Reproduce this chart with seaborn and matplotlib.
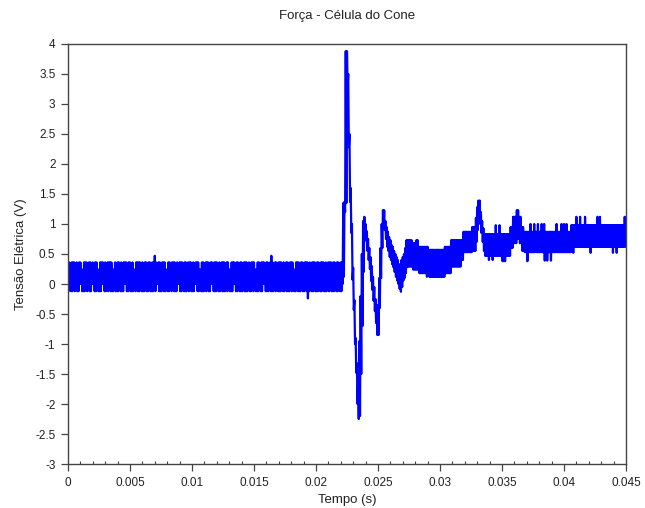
import numpy as np
import pandas as pd
import matplotlib
matplotlib.use("Agg")
import matplotlib.pyplot as plt
from matplotlib.ticker import MultipleLocator
import seaborn as sns

# Sampling step of the acquisition (s); each sample stores the upper and lower
# level reached by the quantised signal within that step.
dt = 1e-4

# Resting signal before the impact (0 - 0.0222 s), upper levels (V)
base_hi = [
    0.36, 0.36, 0.24, 0.36, 0.36, 0.36, 0.24, 0.36, 0.24, 0.36, 0.36, 0.24, 0.24, 0.36, 0.36, 0.36, 0.24, 0.36, 0.36, 0.24,
    0.36, 0.24, 0.36, 0.36, 0.24, 0.24, 0.36, 0.36, 0.36, 0.24, 0.36, 0.24, 0.36, 0.36, 0.36, 0.36, 0.24, 0.24, 0.36, 0.24,
    0.36, 0.36, 0.24, 0.36, 0.24, 0.36, 0.36, 0.36, 0.24, 0.36, 0.36, 0.24, 0.36, 0.24, 0.24, 0.36, 0.36, 0.36, 0.36, 0.24,
    0.36, 0.24, 0.36, 0.36, 0.24, 0.36, 0.36, 0.24, 0.36, 0.36, 0.47, 0.36, 0.24, 0.36, 0.36, 0.24, 0.36, 0.36, 0.36, 0.24,
    0.24, 0.36, 0.36, 0.24, 0.36, 0.36, 0.36, 0.24, 0.36, 0.24, 0.36, 0.36, 0.36, 0.24, 0.36, 0.36, 0.24, 0.36, 0.36, 0.36,
    0.24, 0.36, 0.24, 0.36, 0.36, 0.36, 0.24, 0.24, 0.36, 0.36, 0.24, 0.36, 0.36, 0.36, 0.24, 0.36, 0.36, 0.24, 0.36, 0.36,
    0.36, 0.24, 0.36, 0.24, 0.36, 0.36, 0.36, 0.24, 0.36, 0.36, 0.24, 0.24, 0.36, 0.36, 0.36, 0.24, 0.36, 0.36, 0.24, 0.36,
    0.36, 0.24, 0.36, 0.36, 0.36, 0.24, 0.36, 0.24, 0.36, 0.36, 0.36, 0.24, 0.24, 0.36, 0.36, 0.24, 0.36, 0.36, 0.36, 0.24,
    0.36, 0.36, 0.24, 0.36, 0.47, 0.36, 0.24, 0.36, 0.36, 0.24, 0.36, 0.36, 0.36, 0.24, 0.36, 0.24, 0.36, 0.36, 0.24, 0.36,
    0.36, 0.36, 0.24, 0.24, 0.36, 0.36, 0.36, 0.24, 0.36, 0.36, 0.24, 0.36, 0.36, 0.36, 0.24, 0.36, 0.24, 0.36, 0.36, 0.36,
    0.24, 0.36, 0.36, 0.24, 0.36, 0.36, 0.36, 0.24, 0.36, 0.24, 0.36, 0.36, 0.36, 0.24, 0.36, 0.36, 0.24, 0.36, 0.36, 0.24,
    0.36, 0.36,
]

# Resting signal, lower levels (V)
base_lo = [
    -0.12, 0.0, -0.12, -0.12, 0.0, -0.12, 0.0, -0.12, -0.12, 0.0, 0.0, -0.12, -0.12, -0.12, 0.0, -0.12, 0.0, -0.12, -0.12, 0.0,
    0.0, -0.12, -0.12, 0.0, -0.12, -0.12, -0.12, 0.0, 0.0, -0.12, -0.12, 0.0, -0.12, 0.0, -0.12, -0.12, -0.12, 0.0, -0.12, -0.12,
    -0.12, 0.0, -0.12, -0.12, -0.12, 0.0, 0.0, -0.12, -0.12, 0.0, -0.12, -0.12, -0.12, 0.0, -0.12, 0.0, -0.12, -0.12, 0.0, -0.12,
    -0.12, -0.12, 0.0, -0.12, -0.12, 0.0, -0.12, -0.12, -0.12, 0.0, -0.12, 0.0, 0.0, -0.12, -0.12, -0.12, 0.0, -0.12, -0.12, 0.0,
    -0.12, -0.12, 0.0, -0.12, 0.0, -0.12, -0.12, -0.12, 0.0, 0.0, -0.12, -0.12, 0.0, -0.12, -0.12, -0.12, 0.0, -0.12, 0.0, -0.12,
    -0.12, -0.12, 0.0, 0.0, -0.12, -0.12, 0.0, -0.12, -0.12, -0.12, 0.0, -0.12, 0.0, -0.12, -0.12, 0.0, 0.0, -0.12, -0.12, -0.12,
    0.0, -0.12, -0.12, 0.0, -0.12, -0.12, -0.12, 0.0, -0.12, 0.0, -0.12, -0.12, -0.12, 0.0, 0.0, -0.12, -0.12, 0.0, -0.12, -0.12,
    -0.12, 0.0, -0.12, -0.12, -0.12, 0.0, -0.12, -0.12, 0.0, -0.12, 0.0, -0.12, -0.12, -0.12, 0.0, -0.12, -0.12, 0.0, 0.0, -0.12,
    -0.12, -0.12, 0.0, -0.12, -0.12, -0.12, 0.0, -0.12, 0.0, -0.12, -0.12, -0.12, 0.0, -0.12, -0.12, 0.0, -0.12, -0.12, -0.12, 0.0,
    -0.12, 0.0, -0.12, -0.12, 0.0, -0.12, -0.12, -0.12, 0.0, -0.12, -0.12, 0.0, -0.12, -0.24, -0.12, 0.0, -0.12, -0.12, 0.0, -0.12,
    -0.12, -0.12, 0.0, -0.12, -0.12, 0.0, -0.12, -0.12, -0.12, 0.0, -0.12, 0.0, -0.12, -0.12, -0.12, 0.0, -0.12, -0.12, 0.0, -0.12,
    -0.12, 0.0,
]

# Impact response and settling (0.0222 - 0.045 s), upper levels (V)
event_hi = [
    1.35, 1.37, 3.88, 3.88, 3.5, 2.5, 1.6, 1.0,
    0.27, -0.27, -0.9, -1.32, -1.63, -0.95, -0.2, 0.5, 1.05, 1.12,
    1.0, 0.88, 0.75, 0.6, 0.45, 0.3, 0.12, -0.05, -0.25, -0.45,
    -0.35, 0.1, 0.6, 1.0, 1.23, 1.23, 1.05, 0.95, 0.87, 0.78,
    0.73, 0.65, 0.62, 0.55, 0.5, 0.45, 0.4, 0.33, 0.3, 0.4,
    0.45, 0.5, 0.6, 0.73, 0.73, 0.73, 0.73, 0.73, 0.68, 0.68,
    0.68, 0.73, 0.73, 0.62, 0.62, 0.62, 0.62, 0.62, 0.62, 0.62,
    0.62, 0.57, 0.57, 0.57, 0.57, 0.57, 0.57, 0.57, 0.57, 0.57,
    0.57, 0.57, 0.57, 0.57, 0.62, 0.62, 0.62, 0.62, 0.62, 0.73,
    0.73, 0.73, 0.73, 0.73, 0.73, 0.73, 0.73, 0.73, 0.73, 0.87,
    0.87, 0.87, 0.87, 0.87, 0.87, 0.87, 0.95, 0.95, 0.95, 1.1,
    1.28, 1.39, 1.39, 1.2, 1.05, 0.93, 0.83, 0.83, 0.83, 0.83,
    0.83, 0.83, 0.83, 0.83, 0.83, 0.98, 0.83, 0.83, 0.98, 0.83,
    0.83, 0.83, 0.83, 0.83, 0.83, 0.83, 0.83, 0.95, 0.95, 1.12,
    1.12, 1.12, 1.23, 1.23, 1.12, 1.12, 0.95, 0.95, 0.87, 0.87,
    0.87, 0.87, 0.87, 1.0, 0.87, 0.87, 1.0, 0.87, 0.87, 1.0,
    0.87, 0.87, 1.0, 0.87, 1.0, 0.87, 0.87, 0.87, 0.87, 0.87,
    0.87, 0.87, 0.87, 0.87, 1.0, 0.87, 0.87, 0.87, 1.0, 0.87,
    1.0, 0.87, 1.0, 0.87, 0.87, 0.87, 0.98, 0.98, 0.98, 0.98,
    1.12, 0.98, 0.98, 1.12, 0.98, 0.98, 0.98, 1.12, 0.98, 0.98,
    0.98, 0.98, 0.98, 0.98, 0.98, 0.98, 0.98, 1.12, 0.98, 1.12,
    0.98, 0.98, 0.98, 0.98, 0.98, 0.98, 0.98, 0.98, 0.98, 0.98,
    0.98, 0.98, 0.98, 0.98, 0.98, 0.98, 0.98, 0.98, 0.98, 1.12,
]

# Impact response and settling, lower levels (V)
event_lo = [
    0.12, 1.2, 1.35, 3.27, 2.28, 1.37, 0.85, 0.07,
    -0.43, -1.0, -1.48, -2.0, -2.25, -2.2, -1.5, -0.7, 0.2, 0.85,
    0.72, 0.55, 0.4, 0.25, 0.05, -0.1, -0.28, -0.45, -0.65, -0.85,
    -0.85, -0.4, 0.1, 0.6, 0.95, 0.9, 0.75, 0.62, 0.55, 0.45,
    0.4, 0.33, 0.28, 0.2, 0.12, 0.06, 0.0, -0.08, -0.13, -0.05,
    0.06, 0.1, 0.18, 0.28, 0.29, 0.29, 0.29, 0.29, 0.24, 0.24,
    0.24, 0.24, 0.24, 0.18, 0.18, 0.18, 0.18, 0.18, 0.18, 0.12,
    0.18, 0.12, 0.12, 0.12, 0.12, 0.12, 0.12, 0.12, 0.12, 0.12,
    0.12, 0.12, 0.12, 0.12, 0.18, 0.18, 0.18, 0.18, 0.18, 0.29,
    0.29, 0.29, 0.29, 0.29, 0.29, 0.29, 0.29, 0.4, 0.4, 0.53,
    0.53, 0.53, 0.53, 0.53, 0.53, 0.53, 0.55, 0.55, 0.55, 0.7,
    0.9, 1.05, 1.0, 0.85, 0.7, 0.55, 0.47, 0.47, 0.47, 0.4,
    0.47, 0.47, 0.4, 0.47, 0.47, 0.47, 0.47, 0.47, 0.47, 0.47,
    0.38, 0.38, 0.38, 0.47, 0.47, 0.47, 0.47, 0.6, 0.6, 0.68,
    0.68, 0.68, 0.75, 0.75, 0.68, 0.68, 0.55, 0.55, 0.53, 0.53,
    0.38, 0.53, 0.53, 0.53, 0.53, 0.53, 0.53, 0.53, 0.53, 0.53,
    0.53, 0.53, 0.53, 0.53, 0.39, 0.53, 0.39, 0.53, 0.53, 0.39,
    0.53, 0.53, 0.53, 0.53, 0.53, 0.53, 0.53, 0.53, 0.53, 0.53,
    0.53, 0.53, 0.53, 0.53, 0.53, 0.53, 0.62, 0.52, 0.62, 0.62,
    0.62, 0.62, 0.62, 0.62, 0.62, 0.62, 0.62, 0.62, 0.62, 0.62,
    0.62, 0.52, 0.62, 0.62, 0.62, 0.62, 0.62, 0.62, 0.62, 0.62,
    0.62, 0.62, 0.62, 0.62, 0.62, 0.62, 0.62, 0.62, 0.62, 0.52,
    0.62, 0.62, 0.52, 0.62, 0.62, 0.62, 0.62, 0.62, 0.62, 0.62,
]

x_ticks = [0, 0.005, 0.01, 0.015, 0.02, 0.025, 0.03, 0.035, 0.04, 0.045]
x_labels = ["0", "0.005", "0.01", "0.015", "0.02", "0.025", "0.03", "0.035", "0.04", "0.045"]
y_ticks = [-3, -2.5, -2, -1.5, -1, -0.5, 0, 0.5, 1, 1.5, 2, 2.5, 3, 3.5, 4]
y_labels = ["-3", "-2.5", "-2", "-1.5", "-1", "-0.5", "0", "0.5", "1", "1.5", "2", "2.5", "3", "3.5", "4"]

hi = np.array(base_hi + event_hi)
lo = np.array(base_lo + event_lo)
t = np.arange(len(hi)) * dt

# Trace the signal as it toggles between its upper and lower level each step
df = pd.DataFrame({
    "Tempo (s)": np.column_stack([t, t + dt / 2]).ravel(),
    "Tensão Elétrica (V)": np.column_stack([hi, lo]).ravel(),
})

sns.set_style("white")
plt.rcParams["font.family"] = ["Liberation Sans", "DejaVu Sans"]

fig = plt.figure(figsize=(6.45, 5.08), dpi=100)
ax = fig.add_axes([0.1054, 0.0866, 0.8651, 0.8268])

sns.lineplot(data=df, x="Tempo (s)", y="Tensão Elétrica (V)", sort=False,
             estimator=None, color="#0000ff", linewidth=1.6, ax=ax)

ax.set_xlim(0, 0.045)
ax.set_ylim(-3, 4)
ax.set_xticks(x_ticks)
ax.set_xticklabels(x_labels)
ax.set_yticks(y_ticks)
ax.set_yticklabels(y_labels)
ax.xaxis.set_minor_locator(MultipleLocator(0.001))

for side in ["left", "right", "top", "bottom"]:
    ax.spines[side].set_color("#444444")
    ax.spines[side].set_linewidth(1.0)

ax.tick_params(axis="both", which="major", direction="out", length=5, width=0.9,
               color="#444444", labelsize=8.5, labelcolor="#222222", pad=4,
               left=True, bottom=True, right=False, top=False)
ax.tick_params(axis="x", which="minor", direction="in", length=2.5, width=0.8,
               color="#444444", bottom=True, top=False)

ax.set_title("Força - Célula do Cone", fontsize=9.5, color="#222222", pad=18)
ax.set_xlabel("Tempo (s)", fontsize=9.5, color="#222222", labelpad=4)
ax.set_ylabel("Tensão Elétrica (V)", fontsize=9.5, color="#222222", labelpad=6)

fig.savefig("out.png", dpi=100)
